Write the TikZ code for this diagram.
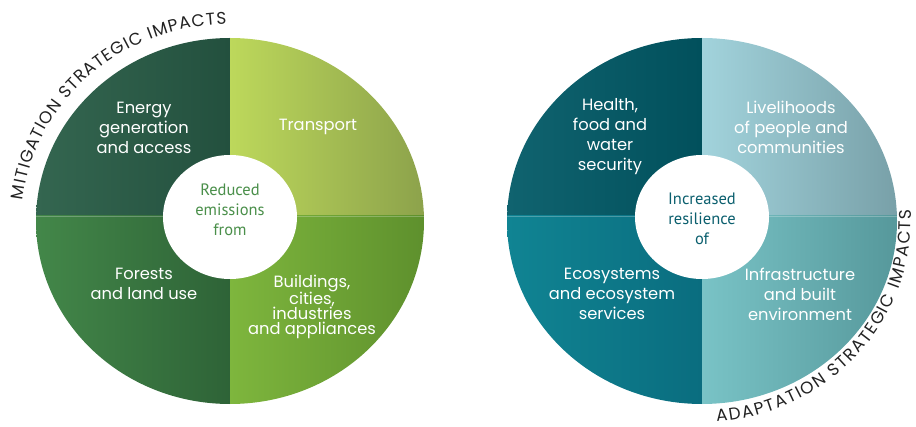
\documentclass[tikz,border=0pt]{standalone}
\usepackage{fontspec}
\setmainfont{Poppins}
\newfontfamily\centerfont{PT Sans}
\usetikzlibrary{decorations.text}
\definecolor{energyL}{HTML}{346650}
\definecolor{energyR}{HTML}{23503E}
\definecolor{transL}{HTML}{BDD85B}
\definecolor{transR}{HTML}{8CA24B}
\definecolor{forestL}{HTML}{438749}
\definecolor{forestR}{HTML}{2E6337}
\definecolor{buildL}{HTML}{7EB63D}
\definecolor{buildR}{HTML}{5E902D}
\definecolor{healthL}{HTML}{10636F}
\definecolor{healthR}{HTML}{01505C}
\definecolor{liveL}{HTML}{A2D3DC}
\definecolor{liveR}{HTML}{78A0A8}
\definecolor{ecoL}{HTML}{108493}
\definecolor{ecoR}{HTML}{0A6D7F}
\definecolor{infraL}{HTML}{79C3C6}
\definecolor{infraR}{HTML}{56989B}
\definecolor{midgreen}{HTML}{4A8F4A}
\definecolor{midteal}{HTML}{0B5F6E}
\definecolor{arctext}{HTML}{222222}
\tikzset{
  qtext/.style={text=white, align=center, inner sep=0pt, font=\fontsize{16.3}{20}\selectfont},
  ctext/.style={align=center, inner sep=0pt, font=\centerfont\fontsize{16.5}{20}\selectfont},
  hub/.style={fill=white, draw=none},
  divider/.style={draw=white, draw opacity=0.25, line width=0.8pt}
}
\begin{document}
\begin{tikzpicture}[x=1pt,y=1pt]
\useasboundingbox (0,0) rectangle (916,426);
% ---------- left circle ----------
\begin{scope}
  \clip (230,205) ellipse [x radius=194, y radius=183];
  \shade[left color=energyL, right color=energyR] (36,210) rectangle (230,390);
  \shade[left color=transL, right color=transR] (230,210) rectangle (425,390);
  \shade[left color=forestL, right color=forestR] (36,20) rectangle (230,210);
  \shade[left color=buildL, right color=buildR] (230,20) rectangle (425,210);
  \draw[divider] (36,210) -- (425,210);
\end{scope}
\path[hub] (230,209) ellipse [x radius=67, y radius=62];
\node[qtext] (energy) at (144,298) {Energy\\generation\\and access};
\node[qtext] (transport) at (318,299) {Transport};
\node[qtext] (forests) at (144,142) {Forests\\and land use};
\node[qtext, font=\fontsize{16.3}{15}\selectfont] (buildings) at (312,119) {Buildings,\\cities,\\industries\\and appliances};
\node[ctext, text=midgreen] (reduced) at (230,216) {Reduced\\emissions\\from};
% ---------- right circle ----------
\begin{scope}
  \clip (702,205) ellipse [x radius=195, y radius=183];
  \shade[left color=healthL, right color=healthR] (507,210) rectangle (702,390);
  \shade[left color=liveL, right color=liveR] (702,210) rectangle (898,390);
  \shade[left color=ecoL, right color=ecoR] (507,20) rectangle (702,210);
  \shade[left color=infraL, right color=infraR] (702,20) rectangle (898,210);
  \draw[divider] (507,210) -- (898,210);
\end{scope}
\path[hub] (702,209) ellipse [x radius=67, y radius=62];
\node[qtext] (health) at (610,289) {Health,\\food and\\water\\security};
\node[qtext] (livelihoods) at (791,299) {Livelihoods\\of people and\\communities};
\node[qtext] (ecosystems) at (612,132) {Ecosystems\\and ecosystem\\services};
\node[qtext] (infra) at (800,132) {Infrastructure\\and built\\environment};
\node[ctext, text=midteal] (increased) at (702,207) {Increased\\resilience\\of};
% ---------- curved labels ----------
\path[decorate, decoration={text along path, text align={fit to path},
  text={|\fontsize{17}{17}\selectfont\color{arctext}|MITIGATION STRATEGIC IMPACTS}}]
  (230,205) ++(174:208 and 197) arc [start angle=174, end angle=91, x radius=208, y radius=197];
\path[decorate, decoration={text along path, text align={fit to path},
  text={|\fontsize{17}{17}\selectfont\color{arctext}|ADAPTATION STRATEGIC IMPACTS}}]
  (702,206) ++(-86:209 and 202) arc [start angle=-86, end angle=3, x radius=209, y radius=202];
\end{tikzpicture}
\end{document}
